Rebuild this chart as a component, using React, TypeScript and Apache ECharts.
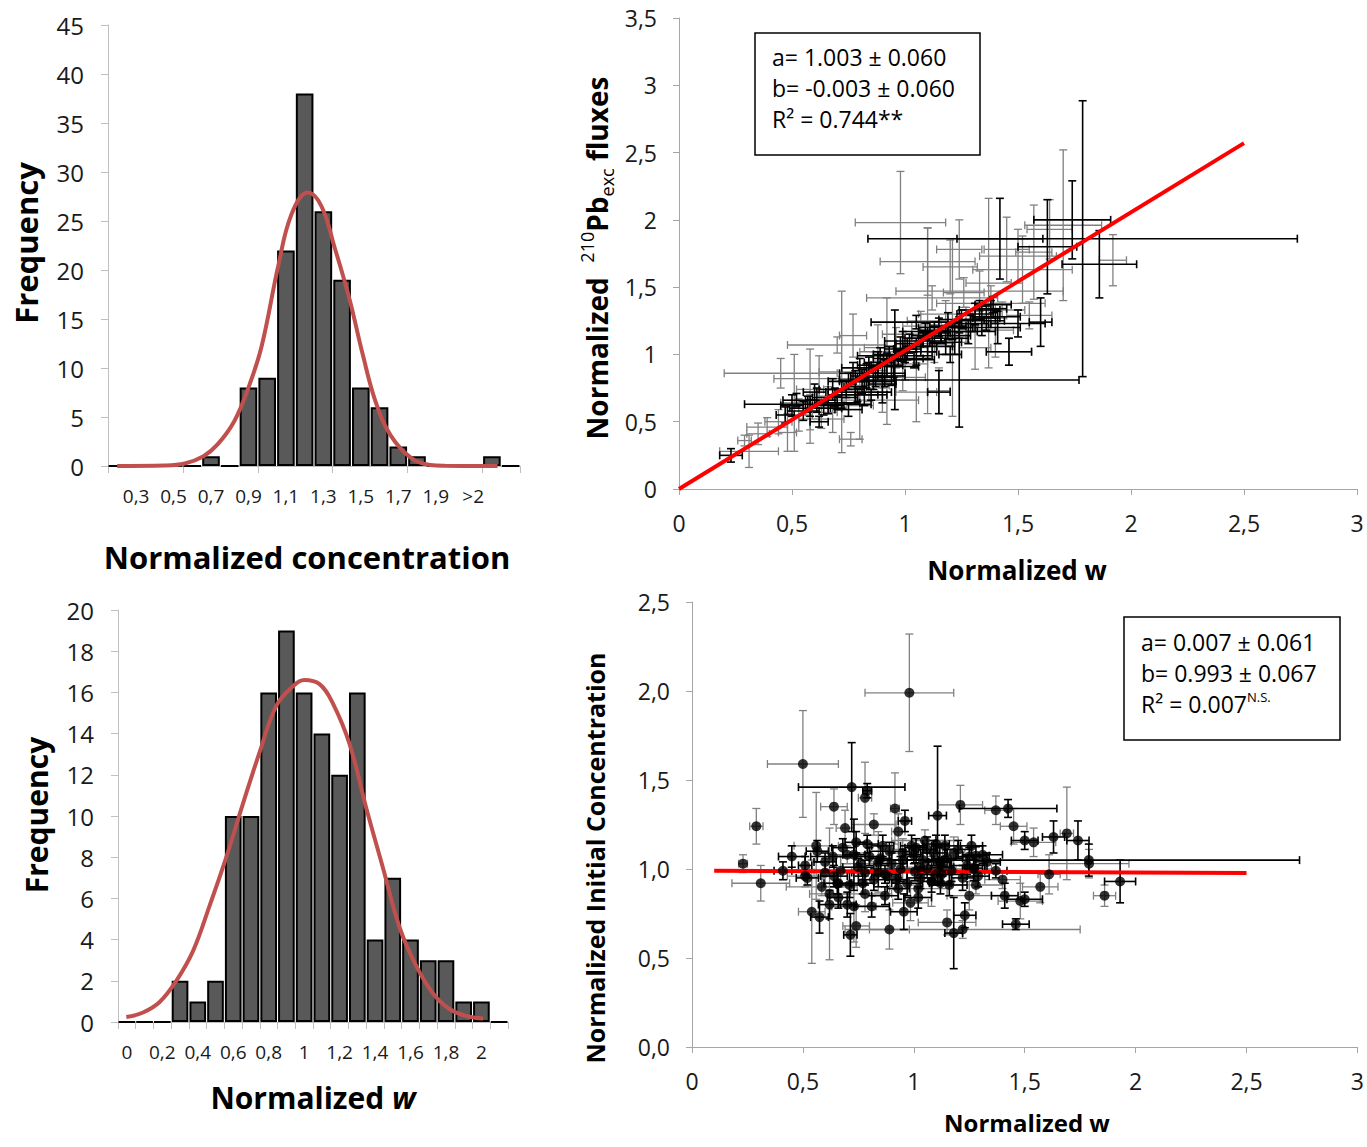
import React, { useEffect, useRef } from 'react';
import * as echarts from 'echarts';

// ---------- Histogram: normalized concentration ----------
const concCategories = ['0,2', '0,3', '0,4', '0,5', '0,6', '0,7', '0,8', '0,9', '1,0', '1,1', '1,2', '1,3', '1,4', '1,5', '1,6', '1,7', '1,8', '1,9', '2,0', '>2', 'More', ' '];
const concFrequency = [0, 0, 0, 0, 0, 1, 0, 8, 9, 22, 38, 26, 19, 8, 6, 2, 1, 0, 0, 0, 1, 0];
// fitted normal curve, x in category-band units
const concNormalCurve = [
  [0.49, 0], [3.0, 0.05], [4.1, 0.26], [5.1, 1.0], [5.85, 2.2], [6.75, 4.6], [7.5, 8], [8.2, 12.2],
  [9.1, 20.5], [9.8, 25.7], [10.67, 27.9], [11.4, 26.5], [12.1, 22.3], [12.9, 17], [13.6, 11.4],
  [14.3, 6.5], [15.1, 3.1], [16.2, 0.8], [17.2, 0.1], [18.0, 0.02], [20.8, 0],
];

// ---------- Histogram: normalized w ----------
const wCategories = ['0', '0,1', '0,2', '0,3', '0,4', '0,5', '0,6', '0,7', '0,8', '0,9', '1', '1,1', '1,2', '1,3', '1,4', '1,5', '1,6', '1,7', '1,8', '1,9', '2', '2,1'];
const wFrequency = [0, 0, 0, 2, 1, 2, 10, 10, 16, 19, 16, 14, 12, 16, 4, 7, 4, 3, 3, 1, 1, 0];
const wNormalCurve = [
  [0.47, 0.24], [1.41, 0.46], [2.35, 0.97], [3.29, 2.0], [4.23, 3.44], [5.17, 5.65], [6.11, 8.0],
  [7.05, 10.6], [7.99, 13.1], [8.93, 15.35], [9.87, 16.3], [10.5, 16.6], [11.37, 16.4], [12.1, 15.5],
  [13.06, 13.5], [14.0, 10.4], [14.94, 7.5], [15.88, 4.6], [16.8, 2.76], [17.76, 1.4], [18.7, 0.63],
  [19.64, 0.29], [20.6, 0.17],
];

// ---------- Scatter: 210Pb fluxes vs w  [x, y, xErr, yErr] ----------
const fluxGray = [
  [0.98, 1.98, 0.20, 0.38], [1.10, 1.69, 0.21, 0.25], [1.21, 1.20, 0.10, 0.66], [1.10, 1.25, 0.09, 0.69],
  [1.37, 1.53, 0.10, 0.63], [1.45, 1.78, 0.10, 0.24], [1.50, 1.73, 0.17, 0.20], [1.57, 1.76, 0.08, 0.35],
  [1.70, 1.96, 0.17, 0.56], [1.33, 1.47, 0.37, 0.15], [1.20, 1.65, 0.12, 0.20], [1.24, 1.78, 0.10, 0.22],
  [1.92, 1.70, 0.06, 0.19], [0.72, 0.87, 0.10, 0.60], [0.51, 0.64, 0.06, 0.36], [0.31, 0.28, 0.13, 0.12],
  [0.29, 0.36, 0.03, 0.04], [0.76, 0.37, 0.05, 0.05], [0.70, 1.07, 0.22, 0.06], [0.62, 0.82, 0.20, 0.17],
  [0.92, 0.95, 0.06, 0.47], [0.39, 0.46, 0.09, 0.07], [0.44, 0.50, 0.06, 0.09], [0.48, 0.42, 0.04, 0.14],
  [0.53, 0.55, 0.06, 0.12], [0.58, 0.52, 0.05, 0.18], [0.63, 0.57, 0.07, 0.12], [0.66, 0.66, 0.08, 0.10],
  [0.80, 0.62, 0.06, 0.25], [0.77, 1.14, 0.06, 0.16], [0.84, 0.77, 0.09, 0.12], [0.86, 0.88, 0.06, 0.14],
  [0.88, 1.02, 0.08, 0.20], [0.96, 1.05, 0.14, 0.15], [1.00, 0.93, 0.10, 0.12], [1.03, 1.15, 0.13, 0.09],
  [1.07, 1.21, 0.08, 0.11], [1.13, 1.08, 0.09, 0.14], [1.18, 1.30, 0.12, 0.10], [1.27, 1.22, 0.11, 0.13],
  [1.31, 1.05, 0.07, 0.16], [1.40, 1.18, 0.08, 0.20], [1.46, 1.02, 0.10, 0.10], [1.43, 1.33, 0.10, 0.06],
  [1.38, 1.38, 0.24, 0.13], [1.55, 1.29, 0.10, 0.10], [1.64, 1.93, 0.10, 0.22], [1.52, 1.63, 0.22, 0.25],
  [1.05, 0.72, 0.09, 0.22], [1.15, 0.73, 0.05, 0.17], [0.45, 0.86, 0.25, 0.11], [0.68, 0.52, 0.05, 0.10],
  [0.35, 0.41, 0.05, 0.08], [0.90, 0.66, 0.16, 0.09], [0.99, 0.83, 0.10, 0.10], [1.12, 1.42, 0.29, 0.09],
  [1.26, 1.46, 0.09, 0.11], [0.58, 0.74, 0.06, 0.30],
];
const fluxBlack = [
  [1.786, 1.86, 0.95, 1.025], [1.42, 1.86, 0.19, 0.30], [1.63, 1.80, 0.13, 0.35], [1.74, 2.00, 0.17, 0.29],
  [1.86, 1.67, 0.165, 0.25], [0.23, 0.25, 0.05, 0.05], [0.57, 0.63, 0.28, 0.06], [0.955, 0.96, 0.05, 0.37],
  [1.15, 0.72, 0.05, 0.16], [1.46, 1.02, 0.10, 0.10], [1.41, 1.20, 0.10, 0.12], [1.50, 1.23, 0.12, 0.10],
  [1.24, 0.81, 0.53, 0.35], [0.50, 0.62, 0.05, 0.08], [0.55, 0.58, 0.07, 0.07], [0.61, 0.66, 0.05, 0.09],
  [0.64, 0.60, 0.08, 0.05], [0.68, 0.74, 0.06, 0.08], [0.72, 0.70, 0.06, 0.10], [0.75, 0.80, 0.09, 0.06],
  [0.78, 0.76, 0.05, 0.12], [0.80, 0.90, 0.08, 0.07], [0.83, 0.84, 0.07, 0.09], [0.86, 0.80, 0.10, 0.06],
  [0.88, 0.94, 0.06, 0.08], [0.91, 0.86, 0.09, 0.10], [0.93, 1.00, 0.07, 0.06], [0.95, 0.91, 0.11, 0.08],
  [0.98, 1.04, 0.07, 0.09], [1.00, 0.99, 0.12, 0.05], [1.02, 1.08, 0.06, 0.07], [1.05, 1.02, 0.09, 0.10],
  [1.08, 1.12, 0.08, 0.06], [1.10, 1.06, 0.11, 0.09], [1.13, 1.16, 0.07, 0.08], [1.16, 1.14, 0.13, 0.06],
  [1.19, 1.21, 0.08, 0.10], [1.22, 1.12, 0.06, 0.12], [1.25, 1.26, 0.10, 0.07], [1.28, 1.17, 0.12, 0.09],
  [1.31, 1.30, 0.08, 0.08], [1.34, 1.25, 0.10, 0.11], [1.38, 1.34, 0.07, 0.06], [1.40, 1.28, 0.11, 0.05],
  [0.70, 0.64, 0.10, 0.05], [0.82, 0.72, 0.12, 0.10], [0.90, 0.78, 0.06, 0.14], [0.47, 0.55, 0.04, 0.06],
  [0.62, 0.50, 0.04, 0.04], [1.05, 1.24, 0.20, 0.05], [1.60, 1.24, 0.05, 0.18],
  [0.52, 0.66, 0.06, 0.05], [0.58, 0.60, 0.09, 0.06], [0.66, 0.62, 0.07, 0.06], [0.69, 0.68, 0.10, 0.07],
  [0.74, 0.74, 0.08, 0.06], [0.77, 0.86, 0.06, 0.08], [0.79, 0.70, 0.09, 0.05], [0.81, 0.80, 0.10, 0.09],
  [0.84, 0.92, 0.05, 0.06], [0.87, 0.83, 0.08, 0.07], [0.89, 0.99, 0.10, 0.06], [0.92, 0.92, 0.07, 0.09],
  [0.94, 0.84, 0.06, 0.07], [0.97, 0.97, 0.11, 0.06], [0.99, 1.10, 0.08, 0.07], [1.01, 1.04, 0.06, 0.08],
  [1.04, 0.96, 0.09, 0.06], [1.07, 1.06, 0.07, 0.07], [1.09, 1.17, 0.10, 0.06], [1.12, 1.10, 0.06, 0.08],
  [1.15, 1.20, 0.09, 0.07], [1.18, 1.09, 0.07, 0.09], [1.21, 1.17, 0.11, 0.06], [1.24, 1.20, 0.06, 0.08],
  [1.29, 1.23, 0.08, 0.06], [1.33, 1.33, 0.09, 0.07], [1.36, 1.27, 0.06, 0.09], [1.39, 1.37, 0.08, 0.06],
  [0.85, 0.70, 0.07, 0.04], [1.20, 1.00, 0.05, 0.06], [0.75, 0.59, 0.06, 0.05], [0.60, 0.72, 0.05, 0.06],
];
const fluxFitLine = [[0, 0], [2.5, 2.57]];

// ---------- Scatter: initial concentration vs w  [x, y, xErr, yErr] ----------
const concGray = [
  [0.23, 1.03, 0.02, 0.05], [0.29, 1.24, 0.03, 0.10], [0.31, 0.92, 0.13, 0.10], [0.50, 1.59, 0.16, 0.30],
  [0.51, 0.96, 0.08, 0.06], [0.54, 0.76, 0.06, 0.29], [0.56, 1.13, 0.10, 0.30], [0.585, 0.90, 0.16, 0.05],
  [0.62, 0.86, 0.09, 0.37], [0.64, 1.35, 0.06, 0.10], [0.67, 0.99, 0.14, 0.08], [0.69, 1.23, 0.04, 0.10],
  [0.73, 0.79, 0.10, 0.20], [0.74, 0.68, 0.06, 0.12], [0.78, 1.40, 0.03, 0.20], [0.78, 0.86, 0.12, 0.10],
  [0.82, 1.25, 0.10, 0.06], [0.84, 1.04, 0.04, 0.17], [0.89, 0.66, 0.09, 0.11], [0.915, 1.34, 0.02, 0.20],
  [0.93, 1.21, 0.03, 0.10], [0.98, 1.99, 0.20, 0.33], [0.985, 0.81, 0.08, 0.10], [1.02, 0.89, 0.13, 0.08],
  [1.05, 1.16, 0.15, 0.06], [1.08, 0.93, 0.10, 0.14], [1.12, 1.04, 0.05, 0.12], [1.15, 0.70, 0.13, 0.07],
  [1.21, 1.36, 0.10, 0.11], [1.22, 0.66, 0.53, 0.05], [1.25, 0.85, 0.10, 0.08], [1.28, 0.91, 0.12, 0.05],
  [1.37, 1.33, 0.05, 0.08], [1.40, 0.94, 0.08, 0.05], [1.45, 1.24, 0.06, 0.10], [1.48, 0.82, 0.10, 0.10],
  [1.54, 1.15, 0.10, 0.08], [1.57, 0.90, 0.08, 0.09], [1.61, 0.97, 0.05, 0.11], [1.69, 1.20, 0.03, 0.26],
  [1.79, 1.03, 0.18, 0.08], [1.86, 0.85, 0.05, 0.06], [0.66, 0.92, 0.06, 0.08], [0.70, 1.08, 0.08, 0.05],
  [0.88, 0.96, 0.07, 0.06], [0.95, 1.09, 0.06, 0.08], [1.03, 1.01, 0.09, 0.05], [1.10, 0.97, 0.07, 0.06],
  [1.18, 1.09, 0.05, 0.09], [1.27, 1.00, 0.08, 0.07], [0.60, 0.98, 0.05, 0.08], [0.76, 1.03, 0.09, 0.06],
];
const concBlack = [
  [0.41, 0.99, 0.04, 0.05], [0.45, 1.07, 0.06, 0.06], [0.51, 1.02, 0.03, 0.05], [0.52, 0.95, 0.05, 0.04],
  [0.565, 1.10, 0.05, 0.06], [0.575, 0.73, 0.04, 0.09], [0.62, 0.80, 0.05, 0.08], [0.635, 1.07, 0.10, 0.06],
  [0.655, 0.92, 0.06, 0.06], [0.70, 0.80, 0.04, 0.07], [0.714, 0.63, 0.03, 0.12], [0.72, 1.46, 0.24, 0.25],
  [0.73, 1.08, 0.05, 0.20], [0.74, 1.15, 0.05, 0.06], [0.79, 1.44, 0.02, 0.04], [0.78, 0.98, 0.06, 0.07],
  [0.81, 0.79, 0.08, 0.06], [0.84, 0.98, 0.06, 0.08], [0.87, 0.85, 0.06, 0.05], [0.89, 1.10, 0.09, 0.05],
  [0.94, 1.00, 0.09, 0.07], [0.955, 0.76, 0.06, 0.10], [0.96, 1.27, 0.03, 0.06], [0.99, 1.13, 0.05, 0.06],
  [1.005, 0.985, 0.07, 0.05], [1.04, 1.05, 0.07, 0.08], [1.08, 0.93, 0.05, 0.06], [1.10, 1.14, 0.06, 0.05],
  [1.107, 1.30, 0.04, 0.39], [1.116, 1.04, 0.05, 0.08], [1.125, 0.97, 0.09, 0.05], [1.14, 1.13, 0.06, 0.06],
  [1.16, 0.91, 0.08, 0.06], [1.18, 0.64, 0.04, 0.20], [1.23, 0.74, 0.05, 0.07], [1.24, 1.02, 0.08, 0.05],
  [1.26, 1.13, 0.05, 0.06], [1.27, 1.005, 0.04, 0.07], [1.28, 1.075, 0.06, 0.05], [1.31, 1.08, 0.09, 0.05],
  [1.37, 0.99, 0.05, 0.04], [1.41, 0.85, 0.06, 0.07], [1.425, 1.34, 0.22, 0.05], [1.46, 0.69, 0.06, 0.03],
  [1.50, 1.16, 0.06, 0.05], [1.50, 0.83, 0.08, 0.04], [1.63, 1.18, 0.05, 0.09], [1.74, 1.16, 0.05, 0.11],
  [1.789, 1.05, 0.95, 0.09], [1.93, 0.93, 0.07, 0.12], [0.86, 1.13, 0.05, 0.06], [1.00, 1.08, 0.04, 0.05],
  [0.93, 0.89, 0.05, 0.06], [1.06, 1.11, 0.04, 0.07],
  [0.60, 1.04, 0.05, 0.05], [0.64, 0.96, 0.06, 0.06], [0.68, 1.12, 0.05, 0.05], [0.71, 0.91, 0.06, 0.07],
  [0.75, 1.01, 0.07, 0.05], [0.77, 0.92, 0.05, 0.06], [0.80, 1.07, 0.06, 0.05], [0.82, 0.94, 0.07, 0.06],
  [0.85, 1.06, 0.05, 0.07], [0.87, 0.97, 0.06, 0.05], [0.90, 1.03, 0.07, 0.06], [0.92, 0.94, 0.05, 0.05],
  [0.95, 1.05, 0.06, 0.06], [0.97, 0.92, 0.07, 0.07], [1.01, 1.12, 0.05, 0.05], [1.03, 0.95, 0.06, 0.06],
  [1.06, 1.00, 0.05, 0.05], [1.09, 1.09, 0.06, 0.07], [1.12, 0.92, 0.05, 0.06], [1.15, 1.06, 0.07, 0.05],
  [1.17, 0.99, 0.05, 0.06], [1.20, 1.11, 0.06, 0.05], [1.22, 0.95, 0.05, 0.07], [1.25, 1.07, 0.06, 0.05],
  [1.29, 0.96, 0.05, 0.06], [1.33, 1.04, 0.06, 0.05], [0.66, 0.84, 0.05, 0.06], [0.79, 1.14, 0.05, 0.05],
  [1.02, 0.84, 0.06, 0.06], [1.13, 1.01, 0.05, 0.05],
];
const concFitLine = [[0.1, 0.99], [2.5, 0.977]];

const fluxStats = ['a= 1.003 ± 0.060', 'b= -0.003 ± 0.060', 'R² = 0.744**'];
const concStats = ['a= 0.007 ± 0.061', 'b= 0.993 ± 0.067', 'R² = 0.007'];

const SANS = "'Open Sans', 'Noto Sans', sans-serif";

function errorBars(color: string, width: number) {
  return (params: any, api: any) => {
    const x = api.value(0), y = api.value(1), ex = api.value(2), ey = api.value(3);
    const l = api.coord([x - ex, y]);
    const r = api.coord([x + ex, y]);
    const t = api.coord([x, y + ey]);
    const b = api.coord([x, y - ey]);
    const c = 4;
    const style = { stroke: color, lineWidth: width, fill: null };
    const seg = (x1: number, y1: number, x2: number, y2: number) => ({ type: 'line', shape: { x1, y1, x2, y2 }, style });
    return {
      type: 'group',
      children: [
        seg(l[0], l[1], r[0], r[1]), seg(l[0], l[1] - c, l[0], l[1] + c), seg(r[0], r[1] - c, r[0], r[1] + c),
        seg(t[0], t[1], b[0], b[1]), seg(t[0] - c, t[1], t[0] + c, t[1]), seg(b[0] - c, b[1], b[0] + c, b[1]),
      ],
    };
  };
}

const comma = (v: number) => String(Math.round(v * 100) / 100).replace('.', ',');

function histAxes(gridIndex: number, cats: string[], labelOdd: boolean, tickEvery: number, yMax: number, yInterval: number) {
  return {
    x: [
      {
        type: 'category', gridIndex, data: cats, boundaryGap: true,
        axisLine: { lineStyle: { color: '#bfbfbf', width: 1 } },
        axisTick: { show: true, length: 7, lineStyle: { color: '#bfbfbf' }, interval: (i: number) => i % tickEvery === 0 },
        axisLabel: {
          interval: (i: number) => (labelOdd ? i % 2 === 1 : i % 2 === 0),
          color: '#1a1a1a', fontFamily: SANS, fontSize: 19, margin: 20,
        },
        splitLine: { show: false },
      },
      { type: 'value', gridIndex, min: 0, max: 22, show: false },
    ],
    y: {
      type: 'value', gridIndex, min: 0, max: yMax, interval: yInterval,
      axisLine: { show: true, lineStyle: { color: '#bfbfbf' } },
      axisTick: { show: true, length: 7, lineStyle: { color: '#bfbfbf' } },
      axisLabel: { color: '#1a1a1a', fontFamily: SANS, fontSize: 24, margin: 24 },
      splitLine: { show: false },
    },
  };
}

function scatterAxes(gridIndex: number, yMax: number, yFmt: (v: number) => string) {
  return {
    x: {
      type: 'value', gridIndex, min: 0, max: 3, interval: 0.5,
      axisLine: { lineStyle: { color: '#a6a6a6' } },
      axisTick: { show: true, length: 6, lineStyle: { color: '#a6a6a6' } },
      axisLabel: { color: '#1a1a1a', fontFamily: SANS, fontSize: 23, margin: 22, formatter: comma },
      splitLine: { show: false },
    },
    y: {
      type: 'value', gridIndex, min: 0, max: yMax, interval: 0.5,
      axisLine: { show: true, lineStyle: { color: '#a6a6a6' } },
      axisTick: { show: true, length: 6, lineStyle: { color: '#a6a6a6' } },
      axisLabel: { color: '#1a1a1a', fontFamily: SANS, fontSize: 23, margin: 22, formatter: yFmt },
      splitLine: { show: false },
    },
  };
}

function txt(x: number, y: number, text: string, size: number, opts: any = {}) {
  return {
    type: 'text', x, y, rotation: opts.rotation || 0, z: 100,
    style: {
      text, rich: opts.rich,
      fontFamily: SANS, fontSize: size, fontWeight: opts.weight || 'normal',
      fill: '#000', align: opts.align || 'center', verticalAlign: 'middle',
      textAlign: opts.align || 'center', textVerticalAlign: 'middle',
    },
  };
}

export default function App() {
  const ref = useRef<HTMLDivElement>(null);
  useEffect(() => {
    if (!ref.current) return;
    const chart = echarts.init(ref.current, null, { renderer: 'svg' });
    const h1 = histAxes(0, concCategories, true, 4, 45, 5);
    const h2 = histAxes(1, wCategories, false, 1, 20, 2);
    const s1 = scatterAxes(2, 3.5, comma);
    const s2 = scatterAxes(3, 2.5, (v: number) => v.toFixed(1).replace('.', ','));

    const barStyle = { color: '#595959', borderColor: '#000', borderWidth: 2 };
    const curveStyle = { color: '#c0504d', width: 4 };

    chart.setOption({
      animation: false,
      backgroundColor: '#fff',
      grid: [
        { left: 108, top: 25, width: 412, height: 441 },
        { left: 118, top: 610, width: 390, height: 412 },
        { left: 679, top: 18, width: 678, height: 471 },
        { left: 692, top: 602, width: 666, height: 445 },
      ],
      xAxis: [h1.x[0], h1.x[1], h2.x[0], h2.x[1], s1.x, s2.x],
      yAxis: [h1.y, h2.y, s1.y, s2.y],
      series: [
        { type: 'bar', xAxisIndex: 0, yAxisIndex: 0, data: concFrequency, barCategoryGap: '6%', itemStyle: barStyle },
        { type: 'line', xAxisIndex: 1, yAxisIndex: 0, data: concNormalCurve, smooth: 0.4, showSymbol: false, lineStyle: curveStyle, z: 5 },
        { type: 'bar', xAxisIndex: 2, yAxisIndex: 1, data: wFrequency, barCategoryGap: '6%', itemStyle: barStyle },
        { type: 'line', xAxisIndex: 3, yAxisIndex: 1, data: wNormalCurve, smooth: 0.4, showSymbol: false, lineStyle: curveStyle, z: 5 },

        { type: 'custom', xAxisIndex: 4, yAxisIndex: 2, data: fluxGray, encode: { x: 0, y: 1 }, renderItem: errorBars('#808080', 1.3), clip: false, z: 2 },
        { type: 'custom', xAxisIndex: 4, yAxisIndex: 2, data: fluxBlack, encode: { x: 0, y: 1 }, renderItem: errorBars('#000', 1.6), clip: false, z: 3 },
        { type: 'line', xAxisIndex: 4, yAxisIndex: 2, data: fluxFitLine, showSymbol: false, lineStyle: { color: '#ff0000', width: 4 }, z: 6 },

        { type: 'custom', xAxisIndex: 5, yAxisIndex: 3, data: concGray, encode: { x: 0, y: 1 }, renderItem: errorBars('#808080', 1.3), clip: false, z: 2 },
        { type: 'custom', xAxisIndex: 5, yAxisIndex: 3, data: concBlack, encode: { x: 0, y: 1 }, renderItem: errorBars('#000', 1.6), clip: false, z: 3 },
        { type: 'line', xAxisIndex: 5, yAxisIndex: 3, data: concFitLine, showSymbol: false, lineStyle: { color: '#ff0000', width: 4 }, z: 4 },
        { type: 'scatter', xAxisIndex: 5, yAxisIndex: 3, data: concGray.map((p) => [p[0], p[1]]), symbolSize: 10, itemStyle: { color: '#000' }, z: 5 },
        { type: 'scatter', xAxisIndex: 5, yAxisIndex: 3, data: concBlack.map((p) => [p[0], p[1]]), symbolSize: 10, itemStyle: { color: '#000' }, z: 5 },
      ],
      graphic: [
        // histogram titles
        txt(26, 243, 'Frequency', 31, { weight: 'bold', rotation: Math.PI / 2 }),
        txt(307, 557, 'Normalized concentration', 31, { weight: 'bold' }),
        txt(36, 815, 'Frequency', 30, { weight: 'bold', rotation: Math.PI / 2 }),
        txt(313, 1097, '{n|Normalized }{i|w}', 30, {
          weight: 'bold',
          rich: {
            n: { fontFamily: SANS, fontSize: 30, fontWeight: 'bold' },
            i: { fontFamily: SANS, fontSize: 30, fontWeight: 'bold', fontStyle: 'italic' },
          },
        }),
        // scatter 1 titles
        txt(1017, 570, 'Normalized w', 26, { weight: 'bold' }),
        txt(597, 258, '{n|Normalized  }{sup|210}{n|Pb}{sub|exc}{n| fluxes}', 28, {
          weight: 'bold', rotation: Math.PI / 2,
          rich: {
            n: { fontFamily: SANS, fontSize: 28, fontWeight: 'bold', lineHeight: 38 },
            sup: { fontFamily: SANS, fontSize: 18, fontWeight: 'normal', verticalAlign: 'top', lineHeight: 18 },
            sub: { fontFamily: SANS, fontSize: 18, fontWeight: 'normal', verticalAlign: 'bottom', lineHeight: 18 },
          },
        }),
        // scatter 2 titles
        txt(1027, 1122, 'Normalized w', 24, { weight: 'bold' }),
        txt(595, 858, 'Normalized Initial Concentration', 25, { weight: 'bold', rotation: Math.PI / 2 }),
        // stat boxes
        { type: 'rect', shape: { x: 755, y: 33, width: 225, height: 122 }, style: { fill: '#fff', stroke: '#000', lineWidth: 1.5 }, z: 90 },
        txt(772, 57, fluxStats[0], 23, { align: 'left' }),
        txt(772, 88, fluxStats[1], 23, { align: 'left' }),
        txt(772, 119, fluxStats[2], 23, { align: 'left' }),
        { type: 'rect', shape: { x: 1124, y: 617, width: 216, height: 123 }, style: { fill: '#fff', stroke: '#000', lineWidth: 1.5 }, z: 90 },
        txt(1141, 642, concStats[0], 23, { align: 'left' }),
        txt(1141, 673, concStats[1], 23, { align: 'left' }),
        txt(1141, 704, '{t|' + concStats[2] + '}{s|N.S.}', 23, {
          align: 'left',
          rich: {
            t: { fontFamily: SANS, fontSize: 23, lineHeight: 28 },
            s: { fontFamily: SANS, fontSize: 13, verticalAlign: 'top', lineHeight: 14 },
          },
        }),
      ],
    });
    return () => chart.dispose();
  }, []);
  return <div ref={ref} style={{ position: 'absolute', left: 0, top: 0, width: 1367, height: 1147, background: '#fff' }} />;
}
